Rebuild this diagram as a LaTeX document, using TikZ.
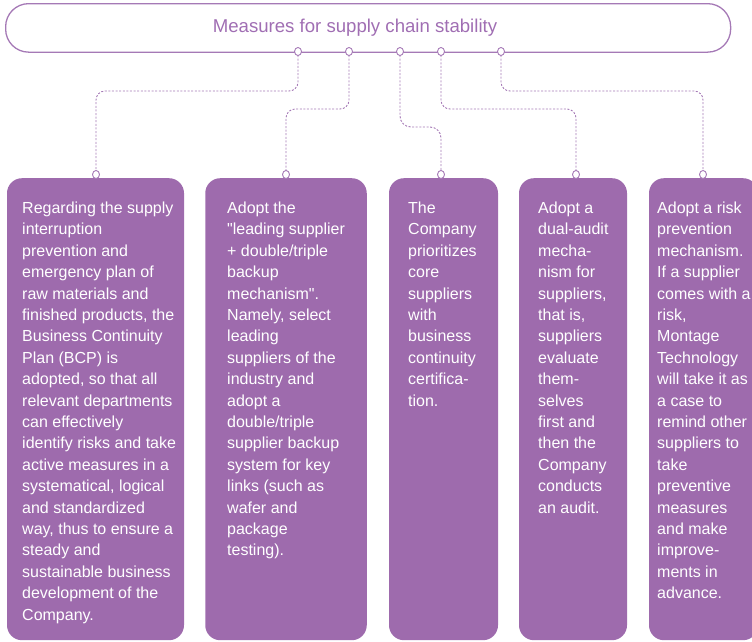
\documentclass[tikz,border=0pt]{standalone}
\usepackage{fontspec}
\setmainfont{Liberation Sans}
\newfontfamily\plainfont{Liberation Sans}
\definecolor{cardfill}{HTML}{9E6BAD}
\definecolor{purpleline}{HTML}{A579B6}
\definecolor{titlecol}{HTML}{A06EB3}
\newcommand\cardtext[1]{\parbox[t]{200pt}{\raggedright #1}}
\newcommand\sq{{\plainfont"}}
\tikzset{
  cardbox/.style={fill=cardfill, draw=none, rounded corners=15pt, anchor=north, inner sep=0pt, minimum height=462pt},
  bodytext/.style={anchor=base west, inner sep=0pt, text=white, font=\fontsize{16}{21.4}\selectfont},
  conn/.style={draw=purpleline, line width=0.9pt, dash pattern=on 2pt off 1.6pt, rounded corners=9pt},
  pindot/.style={ellipse, draw=purpleline, fill=white, line width=0.9pt, inner sep=0pt, minimum width=7pt, minimum height=8pt},
}
\usetikzlibrary{shapes.geometric}
\begin{document}
\begin{tikzpicture}[x=1pt,y=-1pt]
\useasboundingbox (0,0) rectangle (752,641);
\clip (0,0) rectangle (752,641);
% top box
\node[draw=purpleline, line width=1.3pt, rounded corners=23pt, minimum width=725pt, minimum height=48.5pt, anchor=north west, inner sep=0pt] (top) at (5,3) {};
\node[anchor=base, inner sep=0pt, text=titlecol, font=\fontsize{18.6}{22}\selectfont] (title) at (355,32) {Measures for supply chain stability};
% cards
\node[cardbox, minimum width=177pt] (b1) at (95.5,178) {};
\node[cardbox, minimum width=161.5pt] (b2) at (286,178) {};
\node[cardbox, minimum width=109pt] (b3) at (443.5,178) {};
\node[cardbox, minimum width=108pt] (b4) at (573,178) {};
\node[cardbox, minimum width=109pt] (b5) at (703.5,178) {};
% pin coordinates
\coordinate (c1) at (298,51.5);
\coordinate (c2) at (349,51.5);
\coordinate (c3) at (400,51.5);
\coordinate (c4) at (441,51.5);
\coordinate (c5) at (501,51.5);
\coordinate (d1) at (96,174.5);
\coordinate (d2) at (286,174.5);
\coordinate (d3) at (441,174.5);
\coordinate (d4) at (576,174.5);
\coordinate (d5) at (703,174.5);
% connectors
\draw[conn] (c1) -- (298,91) -- (96,91) -- (d1);
\draw[conn] (c2) -- (349,109) -- (286,109) -- (d2);
\draw[conn, rounded corners=11pt] (c3) -- (400,127) -- (441,127) -- (d3);
\draw[conn] (c4) -- (441,109) -- (576,109) -- (d4);
\draw[conn] (c5) -- (501,91) -- (703,91) -- (d5);
% dots
\foreach \p in {c1,c2,c3,c4,c5,d1,d2,d3,d4,d5} \node[pindot] at (\p) {};
% texts
\node[bodytext] (t1) at (22,213.5) {\cardtext{Regarding the supply\\interruption\\prevention and\\emergency plan of\\raw materials and\\finished products, the\\Business Continuity\\Plan (BCP) is\\adopted, so that all\\relevant departments\\can effectively\\identify risks and take\\active measures in a\\systematical, logical\\and standardized\\way, thus to ensure a\\steady and\\sustainable business\\development of the\\Company.}};
\node[bodytext] (t2) at (227,213.5) {\cardtext{Adopt the\\\sq leading supplier\\+ double/triple\\backup\\mechanism\sq.\\Namely, select\\leading\\suppliers of the\\industry and\\adopt a\\double/triple\\supplier backup\\system for key\\links (such as\\wafer and\\package\\testing).}};
\node[bodytext] (t3) at (408,213.5) {\cardtext{The\\Company\\prioritizes\\core\\suppliers\\with\\business\\continuity\\certifica-\\tion.}};
\node[bodytext] (t4) at (538,213.5) {\cardtext{Adopt a\\dual-audit\\mecha-\\nism for\\suppliers,\\that is,\\suppliers\\evaluate\\them-\\selves\\first and\\then the\\Company\\conducts\\an audit.}};
\node[bodytext] (t5) at (657,213.5) {\cardtext{Adopt a risk\\prevention\\mechanism.\\If a supplier\\comes with a\\risk,\\Montage\\Technology\\will take it as\\a case to\\remind other\\suppliers to\\take\\preventive\\measures\\and make\\improve-\\ments in\\advance.}};
\end{tikzpicture}
\end{document}
